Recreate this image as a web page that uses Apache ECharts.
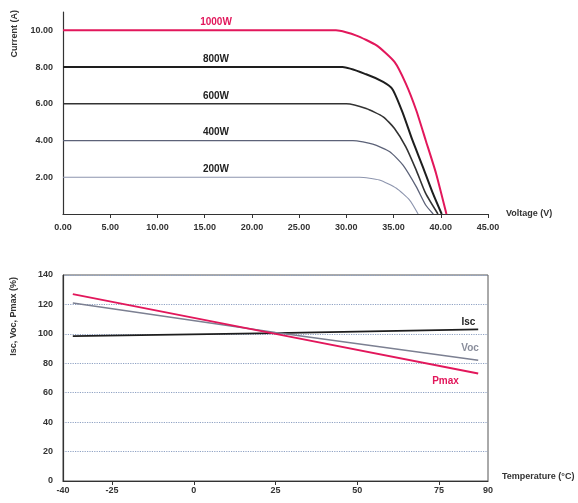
<!DOCTYPE html>
<html>
<head>
<meta charset="utf-8">
<script src="https://cdn.jsdelivr.net/npm/echarts@6/dist/echarts.min.js"></script>
<style>
  html, body { margin: 0; padding: 0; background: #fff; }
  #chart-container { width: 578px; height: 503px; }
</style>
</head>
<body>
<div id="chart-container"></div>
<script>
// I-V curves (voltage V, current A)
var v1000 = [0, 28.9, 31.0, 33.2, 35.1, 36.3, 37.4, 38.4, 39.5, 40.6];
var i1000 = [10, 10, 9.73, 9.18, 8.28, 7.1, 5.65, 4.02, 2.21, 0];
var v800 = [0, 29.6, 32.1, 33.9, 34.9, 36.0, 37.0, 38.1, 39.1, 40.1];
var i800 = [8, 8, 7.61, 7.19, 6.78, 5.47, 4.02, 2.57, 1.21, 0];
var v600 = [0, 30.0, 32.1, 33.9, 35.1, 36.3, 37.4, 38.4, 39.7];
var i600 = [6, 6, 5.74, 5.29, 4.66, 3.66, 2.39, 1.12, 0];
var v400 = [0, 30.7, 32.8, 34.6, 36.0, 37.4, 38.4, 39.2];
var i400 = [4, 4, 3.8, 3.39, 2.66, 1.49, 0.49, 0];
var v200 = [0, 31.4, 33.5, 35.3, 36.7, 37.6];
var i200 = [2, 2, 1.85, 1.4, 0.76, 0];
var irradiance = ['1000W', '800W', '600W', '400W', '200W'];
var voltTicks = [0, 5, 10, 15, 20, 25, 30, 35, 40, 45];
var currentTicks = [2, 4, 6, 8, 10];

// temperature dependence (°C, %)
var temps = [-37, 25, 87];
var iscPct = [98.5, 100.5, 103];
var vocPct = [121, 101, 82];
var pmaxPct = [127, 100, 73];
var tempTicks = [-40, -25, 0, 25, 50, 75, 90];
var pctTicks = [0, 20, 40, 60, 80, 100, 120, 140];

var FONT = '"Liberation Sans Narrow", "Liberation Sans", sans-serif';
var RED = '#e2175b';

function pairs(xs, ys) {
    return xs.map(function (x, k) { return [x, ys[k]]; });
}

var ivColors = [RED, '#1e1e1e', '#333333', '#5c6278', '#8d95ae'];
var ivWidths = [2, 2, 1.6, 1.3, 1.1];
var ivData = [pairs(v1000, i1000), pairs(v800, i800), pairs(v600, i600), pairs(v400, i400), pairs(v200, i200)];
var LABEL_V = 16.2;

var series = ivData.map(function (d, k) {
    return {
        type: 'line',
        name: irradiance[k],
        xAxisIndex: 0,
        yAxisIndex: 0,
        data: d,
        smooth: 0.2,
        showSymbol: false,
        lineStyle: { color: ivColors[k], width: ivWidths[k] },
        markPoint: {
            symbol: 'circle',
            symbolSize: 0,
            label: {
                show: true,
                position: 'top',
                distance: 3,
                formatter: irradiance[k],
                fontFamily: FONT,
                fontSize: 10,
                fontWeight: 'bold',
                color: k === 0 ? RED : '#222'
            },
            data: [{ coord: [LABEL_V, d[0][1]] }]
        }
    };
});

var tempSeries = [
    { name: 'Isc', vals: iscPct, color: '#1e1e1e', width: 1.8, lab: [84, 108], labColor: '#222' },
    { name: 'Voc', vals: vocPct, color: '#7c8092', width: 1.5, lab: [84.5, 90], labColor: '#8a8e9c' },
    { name: 'Pmax', vals: pmaxPct, color: RED, width: 2, lab: [77, 68], labColor: RED }
];
tempSeries.forEach(function (s) {
    series.push({
        type: 'line',
        name: s.name,
        xAxisIndex: 1,
        yAxisIndex: 1,
        data: pairs(temps, s.vals),
        showSymbol: false,
        lineStyle: { color: s.color, width: s.width },
        markPoint: {
            symbol: 'circle',
            symbolSize: 0,
            label: {
                show: true,
                position: 'inside',
                formatter: s.name,
                fontFamily: FONT,
                fontSize: 10,
                fontWeight: 'bold',
                color: s.labColor
            },
            data: [{ coord: s.lab }]
        }
    });
});

var axisText = { fontFamily: FONT, fontSize: 9, fontWeight: 'bold', color: '#333' };

var chartDom = document.getElementById('chart-container');
var myChart = echarts.init(chartDom, null, { renderer: 'canvas' });
var option;

option = {
    animation: false,
    backgroundColor: '#fff',
    grid: [
        { left: 63, right: 90, top: 12, bottom: 289 },
        { left: 63, right: 90, top: 275, bottom: 22, show: true, borderColor: '#555', borderWidth: 1 }
    ],
    xAxis: [
        {
            gridIndex: 0,
            type: 'value',
            min: 0,
            max: 45,
            interval: 5,
            name: 'Voltage (V)',
            nameLocation: 'end',
            nameGap: 18,
            nameTextStyle: { fontFamily: FONT, fontSize: 9, fontWeight: 'bold', color: '#333' },
            axisLine: { show: true, onZero: false, lineStyle: { color: '#333', width: 1.2 } },
            axisTick: { show: true, length: 4, lineStyle: { color: '#333' }, customValues: voltTicks.slice(1) },
            axisLabel: Object.assign({ margin: 9, customValues: voltTicks, formatter: function (v) { return v.toFixed(2); } }, axisText),
            splitLine: { show: false }
        },
        {
            gridIndex: 1,
            type: 'value',
            min: -40,
            max: 90,
            name: 'Temperature (°C)',
            nameLocation: 'end',
            nameGap: 14,
            nameTextStyle: { fontFamily: FONT, fontSize: 9, fontWeight: 'bold', color: '#333', verticalAlign: 'bottom' },
            axisLine: { show: true, onZero: false, lineStyle: { color: '#333', width: 1.2 } },
            axisTick: { show: true, length: 4, lineStyle: { color: '#333' }, customValues: tempTicks.slice(1, 6) },
            axisLabel: Object.assign({ margin: 5, customValues: tempTicks }, axisText),
            splitLine: { show: false }
        }
    ],
    yAxis: [
        {
            gridIndex: 0,
            type: 'value',
            min: 0,
            max: 11,
            axisLine: { show: true, onZero: false, lineStyle: { color: '#333', width: 1.2 } },
            axisTick: { show: false },
            axisLabel: Object.assign({ margin: 10, customValues: currentTicks, formatter: function (v) { return v.toFixed(2); } }, axisText),
            splitLine: { show: false }
        },
        {
            gridIndex: 1,
            type: 'value',
            min: 0,
            max: 140,
            interval: 20,
            axisLine: { show: true, onZero: false, lineStyle: { color: '#333', width: 1.2 } },
            axisTick: { show: false },
            axisLabel: Object.assign({ margin: 10, customValues: pctTicks }, axisText),
            splitLine: { show: true, lineStyle: { color: '#8fa2c4', type: 'dotted', width: 1.2 } }
        }
    ],
    graphic: [
        {
            type: 'text',
            x: 15,
            y: 10,
            rotation: Math.PI / 2,
            style: { text: 'Current (A)', textAlign: 'right', textVerticalAlign: 'middle', fontFamily: FONT, fontSize: 9, fontWeight: 'bold', fill: '#333' }
        },
        {
            type: 'text',
            x: 14,
            y: 277,
            rotation: Math.PI / 2,
            style: { text: 'Isc, Voc, Pmax (%)', textAlign: 'right', textVerticalAlign: 'middle', fontFamily: FONT, fontSize: 9, fontWeight: 'bold', fill: '#333' }
        }
    ],
    series: series
};

option && myChart.setOption(option);
</script>
</body>
</html>
